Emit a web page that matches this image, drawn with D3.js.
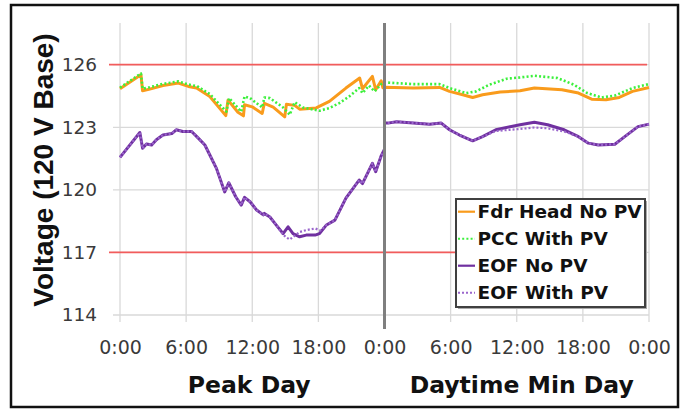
<!DOCTYPE html>
<html lang="en">
<head>
<meta charset="utf-8">
<title>Voltage profiles</title>
<script src="https://d3js.org/d3.v7.min.js"></script>
<style>
  body { margin: 0; background: #fff; }
</style>
</head>
<body>
<div id="vis"></div>
<script>
// hours 0-24 = peak day, 24-48 = daytime min day
const fdrHours = [0, 1.9, 2.05, 2.7, 3.9, 5.3, 6.2, 6.95, 8.15, 9.6, 9.8, 10.7, 11.2, 11.3, 12.0, 12.9, 13.1, 13.9, 14.95, 15.1, 15.85, 16.3, 17.8, 19.0, 20.5, 21.75, 22.0, 22.9, 23.2, 23.7, 23.85, 24,
                  26.6, 29.0, 29.9, 31.1, 32.0, 32.9, 34.5, 36.3, 37.6, 40.1, 41.6, 42.8, 44.1, 45.3, 46.5, 48];
const fdrVolts = [124.85, 125.52, 124.75, 124.83, 125.0, 125.12, 124.96, 124.88, 124.48, 123.56, 124.3, 123.72, 123.55, 124.08, 123.98, 123.66, 124.15, 123.97, 123.5, 124.1, 124.05, 123.87, 123.93, 124.24, 124.88, 125.36, 124.85, 125.44, 124.8, 125.23, 124.9, 124.92,
                  124.88, 124.91, 124.72, 124.56, 124.43, 124.56, 124.69, 124.75, 124.88, 124.8, 124.64, 124.35, 124.32, 124.43, 124.72, 124.91];

const pccHours = [0, 1.9, 2.05, 2.7, 3.9, 5.3, 6.2, 7.0, 8.15, 9.65, 9.9, 11.0, 11.3, 11.8, 12.9, 13.1, 13.6, 14.8, 15.4, 15.85, 16.6, 18.1, 19.0, 19.9, 20.8, 21.7, 22.0, 22.6, 23.1, 23.7, 24,
                  26.6, 29.0, 29.9, 31.4, 32.3, 33.5, 35.1, 36.3, 37.6, 39.7, 41.2, 42.4, 43.7, 44.9, 46.5, 48];
const pccVolts = [124.9, 125.58, 124.85, 124.92, 125.08, 125.2, 125.05, 124.97, 124.59, 123.75, 124.4, 123.75, 124.48, 124.4, 123.95, 124.43, 124.4, 123.95, 123.6, 124.2, 123.95, 123.79, 123.92, 124.16, 124.48, 124.88, 124.64, 125.0, 124.72, 125.07, 125.15,
                  125.07, 125.07, 124.88, 124.64, 124.72, 125.04, 125.33, 125.39, 125.47, 125.36, 125.04, 124.64, 124.43, 124.52, 124.88, 125.07];

const eofHours = [0, 1.8, 2.05, 2.4, 2.87, 3.3, 3.9, 4.7, 5.1, 5.7, 6.5, 7.1, 7.7, 8.15, 8.75, 9.5, 9.87, 10.5, 11.0, 11.3, 11.8, 12.4, 13.0, 13.1, 13.6, 14.2, 14.8, 15.25, 15.7, 16.3, 16.9, 17.7, 18.1, 18.7, 19.5, 20.5, 21.7, 22.0, 22.9, 23.2, 23.7, 24, 24,
                  24.3, 25.1, 28.1, 29.15, 29.9, 30.8, 32.0, 32.9, 34.1, 35.4, 36.3, 37.6, 38.8, 40.3, 41.6, 42.5, 43.4, 44.9, 45.8, 47.0, 48];
const eofVolts = [121.56, 122.75, 121.99, 122.2, 122.15, 122.4, 122.63, 122.7, 122.88, 122.8, 122.8, 122.48, 122.15, 121.67, 121.03, 119.9, 120.34, 119.67, 119.27, 119.64, 119.43, 119.03, 118.8, 118.87, 118.7, 118.3, 117.9, 118.23, 117.9, 117.75, 117.83, 117.83, 117.9, 118.3, 118.55, 119.6, 120.47, 120.3, 121.27, 120.87, 121.63, 121.95, 123.2,
                  123.2, 123.27, 123.15, 123.2, 122.88, 122.63, 122.35, 122.55, 122.88, 123.03, 123.12, 123.24, 123.12, 122.88, 122.55, 122.24, 122.15, 122.19, 122.55, 123.03, 123.15];

const eofPvHours = [0, 1.8, 2.05, 2.4, 2.87, 3.3, 3.9, 4.7, 5.1, 5.7, 6.5, 7.1, 7.7, 8.15, 8.75, 9.5, 9.87, 10.5, 11.0, 11.3, 11.8, 12.4, 13.0, 13.1, 13.6, 14.2, 14.8, 15.1, 15.4, 15.8, 16.3, 16.9, 17.7, 18.2, 18.7, 19.5, 20.5, 21.7, 22.0, 22.9, 23.2, 23.7, 24, 24,
                    24.3, 25.1, 28.1, 29.15, 29.9, 30.8, 32.0, 32.9, 34.1, 35.4, 36.3, 37.6, 38.8, 40.3, 41.6, 42.5, 43.4, 44.9, 45.8, 47.0, 48];
const eofPvVolts = [121.56, 122.75, 121.99, 122.2, 122.15, 122.4, 122.63, 122.7, 122.88, 122.8, 122.8, 122.48, 122.15, 121.67, 121.03, 119.9, 120.34, 119.67, 119.27, 119.64, 119.43, 119.03, 118.8, 118.87, 118.7, 118.3, 117.85, 117.72, 117.62, 117.78, 117.98, 118.07, 118.15, 118.05, 118.3, 118.55, 119.6, 120.47, 120.3, 121.27, 120.87, 121.63, 121.95, 123.2,
                    123.2, 123.27, 123.15, 123.2, 122.88, 122.63, 122.35, 122.55, 122.82, 122.88, 122.92, 122.99, 122.95, 122.8, 122.55, 122.24, 122.15, 122.19, 122.55, 123.03, 123.15];

const yTicks = [114, 117, 120, 123, 126];
const xTicks = [0, 6, 12, 18, 24, 30, 36, 42, 48];
const xTickLabels = ["0:00", "6:00", "12:00", "18:00", "0:00", "6:00", "12:00", "18:00", "0:00"];
const limits = [117, 126];
const dayNames = ["Peak Day", "Daytime Min Day"];
const dayCenters = [12, 36];
const seriesNames = ["Fdr Head No PV", "PCC With PV", "EOF No PV", "EOF With PV"];

const width = 686, height = 409;

const svg = d3.select("#vis")
    .append("svg")
    .attr("width", width)
    .attr("height", height);

const x = d3.scaleLinear().domain([0, 48]).range([120, 649]);
const y = d3.scaleLinear().domain([114, 128]).range([315, 23]);

// outer frame
svg.append("rect")
    .attr("x", 11).attr("y", 5)
    .attr("width", 667).attr("height", 402)
    .attr("fill", "#fff")
    .attr("stroke", "#111")
    .attr("stroke-width", 2.5);

// grid
svg.append("g").selectAll("line")
    .data(xTicks)
    .join("line")
    .attr("x1", d => x(d)).attr("x2", d => x(d))
    .attr("y1", y(128)).attr("y2", y(114) + 7)
    .attr("stroke", "#d9d9d9")
    .attr("stroke-width", 1.3);

svg.append("g").selectAll("line")
    .data(yTicks)
    .join("line")
    .attr("x1", x(0) - 7).attr("x2", x(48))
    .attr("y1", d => y(d)).attr("y2", d => y(d))
    .attr("stroke", "#d9d9d9")
    .attr("stroke-width", 1.3);

// voltage limits
svg.append("g").selectAll("line")
    .data(limits)
    .join("line")
    .attr("x1", x(0) - 11).attr("x2", x(48) - 2)
    .attr("y1", d => y(d)).attr("y2", d => y(d))
    .attr("stroke", "#f25c5c")
    .attr("stroke-width", 1.8);

// axes (labels only)
const yAxis = svg.append("g")
    .attr("transform", `translate(${x(0)},0)`)
    .call(d3.axisLeft(y).tickValues(yTicks).tickSize(0).tickPadding(23));
yAxis.select(".domain").remove();
yAxis.selectAll("text")
    .style("font-family", "DejaVu Sans")
    .style("font-size", "18.5px")
    .attr("fill", "#3a3a3a");

const xAxis = svg.append("g")
    .attr("transform", `translate(0,${y(114)})`)
    .call(d3.axisBottom(x).tickValues(xTicks).tickFormat((d, i) => xTickLabels[i]).tickSize(0).tickPadding(25.5));
xAxis.select(".domain").remove();
xAxis.selectAll("text")
    .style("font-family", "DejaVu Sans")
    .style("font-size", "19px")
    .attr("fill", "#3a3a3a");

// series
const series = [
    { name: seriesNames[0], hours: fdrHours, volts: fdrVolts, color: "#f99b1c", w: 3, dash: null },
    { name: seriesNames[1], hours: pccHours, volts: pccVolts, color: "#3cf03c", w: 2.6, dash: "2,2.2" },
    { name: seriesNames[2], hours: eofHours, volts: eofVolts, color: "#7030a0", w: 3, dash: null },
    { name: seriesNames[3], hours: eofPvHours, volts: eofPvVolts, color: "#9a66cc", w: 2.2, dash: "2,2" }
];

const line = d3.line()
    .x(d => x(d[0]))
    .y(d => y(d[1]));

svg.append("g").selectAll("path")
    .data(series)
    .join("path")
    .attr("d", s => line(s.hours.map((h, i) => [h, s.volts[i]])))
    .attr("fill", "none")
    .attr("stroke", s => s.color)
    .attr("stroke-width", s => s.w)
    .attr("stroke-dasharray", s => s.dash)
    .attr("stroke-linejoin", "round");

// day divider
svg.append("line")
    .attr("x1", x(24)).attr("x2", x(24))
    .attr("y1", y(128)).attr("y2", y(114) + 14)
    .attr("stroke", "#7f7f7f")
    .attr("stroke-width", 3);

// axis titles
svg.append("text")
    .attr("transform", `translate(52.5,170) rotate(-90)`)
    .attr("text-anchor", "middle")
    .style("font-family", "Liberation Sans")
    .style("font-weight", "bold")
    .style("font-size", "28px")
    .attr("fill", "#111")
    .text("Voltage (120 V Base)");

svg.append("g").selectAll("text")
    .data(dayNames)
    .join("text")
    .attr("x", (d, i) => x(dayCenters[i]) + (i === 0 ? -3 : 5))
    .attr("y", 393)
    .attr("text-anchor", "middle")
    .style("font-family", "DejaVu Sans")
    .style("font-weight", "bold")
    .style("font-size", "23.5px")
    .attr("fill", "#111")
    .text(d => d);

// legend
const legend = svg.append("g").attr("transform", "translate(456,199)");
legend.append("rect")
    .attr("x", 2).attr("y", 2)
    .attr("width", 189).attr("height", 108)
    .attr("fill", "#aaa");
legend.append("rect")
    .attr("width", 189).attr("height", 108)
    .attr("fill", "#fff")
    .attr("stroke", "#404040")
    .attr("stroke-width", 2);

const rows = legend.selectAll("g.row")
    .data(series)
    .join("g")
    .attr("class", "row")
    .attr("transform", (d, i) => `translate(0,${12.7 + i * 27})`);

rows.append("line")
    .attr("x1", 2).attr("x2", 19)
    .attr("stroke", d => d.color)
    .attr("stroke-width", d => d.dash ? 2 : 2.2)
    .attr("stroke-dasharray", d => d.dash);

rows.append("text")
    .attr("x", 21.5)
    .attr("dy", "0.36em")
    .style("font-family", "DejaVu Sans")
    .style("font-weight", "bold")
    .style("font-size", "18.5px")
    .attr("fill", "#111")
    .text(d => d.name);
</script>
</body>
</html>
